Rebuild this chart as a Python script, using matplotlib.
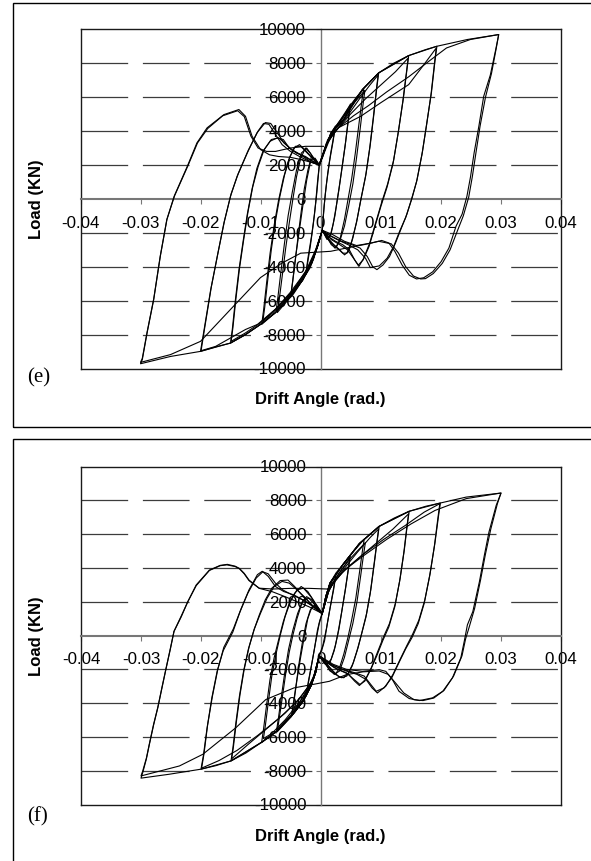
import numpy as np
import matplotlib.pyplot as plt
from matplotlib.patches import Rectangle

plt.rcParams['font.family'] = 'Liberation Sans'
plt.rcParams['axes.unicode_minus'] = False
plt.rcParams['lines.scale_dashes'] = False

x_ticks = [-0.04, -0.03, -0.02, -0.01, 0.0, 0.01, 0.02, 0.03, 0.04]
x_tick_labels = ['-0.04', '-0.03', '-0.02', '-0.01', '0', '0.01', '0.02', '0.03', '0.04']
y_ticks = [-10000, -8000, -6000, -4000, -2000, 0, 2000, 4000, 6000, 8000, 10000]
y_tick_labels = ['-10000', '-8000', '-6000', '-4000', '-2000', '0', '2000', '4000', '6000', '8000', '10000']
grid_levels = [-8000, -6000, -4000, -2000, 2000, 4000, 6000, 8000]

# ---- panel (e) : drift angle (rad), load (kN), one list per cycle ----
e_c1 = [(-0.0002, 2000), (0.0004, 2500), (0.0010, 3200), (0.0017, 3850), (0.0025, 4300),
        (0.0022, 3700), (0.0017, 2700), (0.0012, 1500), (0.0008, 300), (0.0005, -900), (0.0003, -1850),
        (-0.0004, -2600), (-0.0011, -3500), (-0.0018, -4100), (-0.0025, -4500),
        (-0.0022, -3900), (-0.0017, -2800), (-0.0012, -1500), (-0.0008, -200), (-0.0005, 1000), (-0.0002, 2000)]
e_c2 = [(-0.0002, 2000), (0.0006, 2700), (0.0014, 3400), (0.0024, 4100),
        (0.0021, 3400), (0.0015, 2200), (0.0010, 900), (0.0006, -400), (0.0003, -1850),
        (-0.0006, -2800), (-0.0014, -3600), (-0.0024, -4300),
        (-0.0021, -3500), (-0.0015, -2200), (-0.0010, -900), (-0.0006, 400), (-0.0002, 2000)]
e_c3 = [(-0.0002, 2000), (0.0008, 3000), (0.0017, 3850), (0.0028, 4400), (0.0039, 4900), (0.0050, 5600),
        (0.0047, 4800), (0.0042, 3400), (0.0036, 1900), (0.0031, 600), (0.0026, -500), (0.0021, -1500),
        (0.0016, -2200), (0.0010, -2300), (0.0003, -1850),
        (-0.0005, -2800), (-0.0014, -3700), (-0.0026, -4500), (-0.0038, -5200), (-0.0050, -5800),
        (-0.0047, -5000), (-0.0042, -3600), (-0.0037, -2100), (-0.0032, -700), (-0.0027, 600),
        (-0.0021, 1700), (-0.0015, 2500), (-0.0008, 2300), (-0.0002, 2000)]
e_c4 = [(-0.0002, 2000), (0.0007, 2900), (0.0016, 3700), (0.0030, 4400), (0.0049, 5400),
        (0.0046, 4600), (0.0041, 3100), (0.0035, 1600), (0.0029, 200), (0.0024, -1000), (0.0018, -2000),
        (0.0011, -2400), (0.0003, -1850),
        (-0.0006, -2900), (-0.0016, -3800), (-0.0030, -4700), (-0.0049, -5600),
        (-0.0046, -4800), (-0.0041, -3300), (-0.0035, -1800), (-0.0029, -300), (-0.0023, 1100),
        (-0.0016, 2300), (-0.0009, 2400), (-0.0002, 2000)]
e_c5 = [(-0.0002, 2000), (0.0008, 3000), (0.0018, 3900), (0.0030, 4500), (0.0045, 5300), (0.0060, 6000), (0.0072, 6500),
        (0.0069, 5800), (0.0064, 4400), (0.0058, 2700), (0.0052, 1200), (0.0046, 0), (0.0040, -1200),
        (0.0033, -2300), (0.0026, -2900), (0.0018, -2700), (0.0010, -2200), (0.0003, -1850),
        (-0.0005, -2800), (-0.0015, -3800), (-0.0030, -4800), (-0.0045, -5600), (-0.0060, -6200), (-0.0072, -6700),
        (-0.0069, -6000), (-0.0064, -4600), (-0.0058, -2900), (-0.0052, -1400), (-0.0046, 0), (-0.0040, 1300),
        (-0.0033, 2400), (-0.0025, 3000), (-0.0017, 2700), (-0.0009, 2200), (-0.0002, 2000)]
e_c6 = [(-0.0002, 2000), (0.0009, 3100), (0.0020, 3900), (0.0035, 4700), (0.0052, 5500), (0.0074, 6400),
        (0.0071, 5600), (0.0066, 4100), (0.0060, 2400), (0.0054, 900), (0.0047, -400), (0.0040, -1600),
        (0.0032, -2500), (0.0024, -2900), (0.0015, -2500), (0.0003, -1850),
        (-0.0006, -2900), (-0.0018, -4000), (-0.0035, -5000), (-0.0055, -5900), (-0.0074, -6600),
        (-0.0071, -5800), (-0.0066, -4300), (-0.0060, -2600), (-0.0054, -1000), (-0.0047, 400),
        (-0.0040, 1700), (-0.0032, 2700), (-0.0023, 3000), (-0.0013, 2500), (-0.0002, 2000)]
e_c7 = [(-0.0002, 2000), (0.0008, 3000), (0.0018, 3900), (0.0039, 4700), (0.0055, 5700), (0.0070, 6450),
        (0.0085, 7000), (0.0097, 7430),
        (0.0094, 6600), (0.0089, 5000), (0.0083, 3200), (0.0076, 1500), (0.0068, 100), (0.0061, -1200),
        (0.0054, -2300), (0.0047, -3100), (0.0040, -3300), (0.0032, -3000), (0.0022, -2700), (0.0012, -2300),
        (0.0003, -1850),
        (-0.0005, -2800), (-0.0015, -3800), (-0.0030, -4800), (-0.0050, -5700), (-0.0075, -6700), (-0.0098, -7400),
        (-0.0095, -6600), (-0.0090, -5000), (-0.0084, -3200), (-0.0077, -1500), (-0.0070, -100), (-0.0062, 1200),
        (-0.0053, 2300), (-0.0044, 3000), (-0.0035, 3200), (-0.0026, 2900), (-0.0016, 2500), (-0.0008, 2200),
        (-0.0002, 2000)]
e_c8 = [(-0.0002, 2000), (0.0010, 3200), (0.0025, 4000), (0.0045, 4900), (0.0065, 5900), (0.0082, 6700), (0.0096, 7300),
        (0.0093, 6400), (0.0088, 4800), (0.0082, 3000), (0.0075, 1300), (0.0067, -100), (0.0060, -1400),
        (0.0052, -2500), (0.0044, -3200), (0.0037, -3200), (0.0028, -2900), (0.0016, -2500), (0.0003, -1850),
        (-0.0007, -3000), (-0.0020, -4000), (-0.0040, -5100), (-0.0060, -6000), (-0.0079, -6700), (-0.0096, -7200),
        (-0.0093, -6400), (-0.0088, -4800), (-0.0082, -3000), (-0.0075, -1300), (-0.0068, 100), (-0.0060, 1400),
        (-0.0051, 2500), (-0.0042, 3100), (-0.0033, 3100), (-0.0022, 2700), (-0.0011, 2300), (-0.0002, 2000)]
e_c9 = [(-0.0002, 2000), (0.0008, 3000), (0.0018, 3900), (0.0039, 4700), (0.0055, 5700), (0.0070, 6450),
        (0.0097, 7430), (0.0122, 8000), (0.0147, 8450),
        (0.0144, 7600), (0.0138, 5900), (0.0130, 4000), (0.0122, 2300), (0.0112, 900), (0.0102, -200),
        (0.0092, -1400), (0.0082, -2600), (0.0072, -3500), (0.0064, -3980), (0.0057, -3600), (0.0048, -3000),
        (0.0037, -2700), (0.0025, -2500), (0.0012, -2200), (0.0003, -1850),
        (-0.0005, -2800), (-0.0015, -3800), (-0.0030, -4800), (-0.0050, -5700), (-0.0075, -6700), (-0.0100, -7400),
        (-0.0125, -8000), (-0.0150, -8500),
        (-0.0147, -7700), (-0.0142, -6000), (-0.0136, -4200), (-0.0129, -2500), (-0.0122, -900), (-0.0114, 600),
        (-0.0106, 1800), (-0.0096, 2800), (-0.0084, 3400), (-0.0072, 3600), (-0.0062, 3500), (-0.0052, 3000),
        (-0.0040, 2700), (-0.0025, 2500), (-0.0012, 2200), (-0.0002, 2000)]
e_c10 = [(-0.0002, 2000), (0.0010, 3300), (0.0028, 4100), (0.0050, 5000), (0.0075, 5900), (0.0100, 6700),
         (0.0125, 7500), (0.0146, 8300),
         (0.0143, 7400), (0.0137, 5700), (0.0129, 3800), (0.0121, 2100), (0.0111, 700), (0.0101, -400),
         (0.0091, -1600), (0.0081, -2800), (0.0071, -3600), (0.0063, -3900), (0.0055, -3500), (0.0045, -3000),
         (0.0032, -2700), (0.0018, -2400), (0.0003, -1850),
         (-0.0008, -3000), (-0.0025, -4300), (-0.0050, -5500), (-0.0075, -6500), (-0.0100, -7300), (-0.0125, -7900),
         (-0.0149, -8400),
         (-0.0146, -7600), (-0.0141, -5900), (-0.0135, -4100), (-0.0128, -2400), (-0.0121, -800), (-0.0113, 700),
         (-0.0104, 1900), (-0.0094, 2900), (-0.0082, 3500), (-0.0070, 3600), (-0.0060, 3300), (-0.0048, 2900),
         (-0.0033, 2600), (-0.0017, 2300), (-0.0002, 2000)]
e_c11 = [(-0.0002, 2000), (0.0008, 3000), (0.0018, 3900), (0.0039, 4700), (0.0070, 6450), (0.0097, 7430),
         (0.0147, 8450), (0.0175, 8800), (0.0194, 9000),
         (0.0191, 8200), (0.0185, 6300), (0.0178, 4680), (0.0170, 2800), (0.0161, 1140), (0.0153, 100),
         (0.0144, -900), (0.0135, -1700), (0.0125, -2600), (0.0115, -3400), (0.0104, -3900), (0.0094, -4170),
         (0.0087, -4000), (0.0078, -3400), (0.0066, -2900), (0.0052, -2700), (0.0035, -2500), (0.0018, -2200),
         (0.0003, -1850),
         (-0.0005, -2800), (-0.0015, -3800), (-0.0030, -4800), (-0.0050, -5700), (-0.0075, -6700), (-0.0100, -7400),
         (-0.0125, -8000), (-0.0150, -8500), (-0.0175, -8730), (-0.0200, -8990),
         (-0.0194, -7710), (-0.0183, -5350), (-0.0172, -3390), (-0.0161, -1420), (-0.0150, 150), (-0.0139, 1330),
         (-0.0122, 2710), (-0.0106, 3890), (-0.0092, 4500), (-0.0083, 4450), (-0.0072, 3900), (-0.0061, 3300),
         (-0.0048, 2900), (-0.0033, 2600), (-0.0017, 2200), (-0.0002, 2000)]
e_c12 = [(-0.0002, 2000), (0.0012, 3400), (0.0030, 4200), (0.0067, 4870), (0.0100, 5660), (0.0147, 6740),
         (0.0172, 7900), (0.0193, 8900),
         (0.0190, 8000), (0.0184, 6100), (0.0177, 4400), (0.0169, 2600), (0.0160, 1000), (0.0151, -100),
         (0.0142, -1100), (0.0132, -1900), (0.0122, -2800), (0.0111, -3500), (0.0098, -3950), (0.0083, -4050),
         (0.0075, -3500), (0.0062, -3000), (0.0046, -2700), (0.0028, -2400), (0.0012, -2100), (0.0003, -1850),
         (-0.0007, -3000), (-0.0020, -4100), (-0.0045, -5400), (-0.0075, -6500), (-0.0105, -7400), (-0.0125, -7700),
         (-0.0150, -8200), (-0.0175, -8700), (-0.0199, -8950),
         (-0.0193, -7600), (-0.0182, -5200), (-0.0171, -3200), (-0.0160, -1300), (-0.0149, 300), (-0.0137, 1500),
         (-0.0120, 2900), (-0.0104, 4000), (-0.0095, 4450), (-0.0086, 4400), (-0.0075, 3800), (-0.0064, 3200),
         (-0.0050, 2800), (-0.0035, 2500), (-0.0018, 2200), (-0.0002, 2000)]
e_c13 = [(-0.0002, 2000), (0.0008, 3000), (0.0018, 3900), (0.0039, 4700), (0.0070, 6450), (0.0097, 7430),
         (0.0147, 8450), (0.0194, 9000), (0.0245, 9400), (0.0297, 9690),
         (0.0292, 8800), (0.0283, 7300), (0.0272, 6050), (0.0264, 4300), (0.0256, 2710), (0.0250, 1300),
         (0.0244, 150), (0.0236, -900), (0.0226, -1600), (0.0214, -2900), (0.0201, -3700), (0.0187, -4300),
         (0.0172, -4650), (0.0160, -4720), (0.0148, -4500), (0.0136, -3900), (0.0124, -3100), (0.0114, -2600),
         (0.0102, -2450), (0.0085, -2600), (0.0060, -2750), (0.0040, -2500), (0.0020, -2100), (0.0003, -1850),
         (-0.0005, -2800), (-0.0015, -3800), (-0.0030, -4800), (-0.0050, -5700), (-0.0075, -6700), (-0.0100, -7400),
         (-0.0125, -8000), (-0.0150, -8500), (-0.0200, -8990), (-0.0250, -9290), (-0.0300, -9720),
         (-0.0297, -9480), (-0.0289, -7900), (-0.0278, -5940), (-0.0267, -3390), (-0.0256, -1220), (-0.0244, 150),
         (-0.0222, 1920), (-0.0206, 3300), (-0.0189, 4190), (-0.0161, 4970), (-0.0136, 5270), (-0.0125, 4870),
         (-0.0114, 3690), (-0.0100, 2910), (-0.0085, 2600), (-0.0070, 2500), (-0.0050, 2450), (-0.0030, 2300),
         (-0.0015, 2150), (-0.0002, 2000)]
e_c14 = [(-0.0002, 2000), (0.0012, 3500), (0.0030, 4200), (0.0055, 4900), (0.0080, 5500), (0.0110, 6300),
         (0.0147, 7200), (0.0180, 8100), (0.0210, 8900), (0.0250, 9400), (0.0297, 9690),
         (0.0293, 8900), (0.0285, 7400), (0.0275, 6000), (0.0266, 4300), (0.0259, 2700), (0.0253, 1300),
         (0.0247, 100), (0.0238, -1000), (0.0228, -1900), (0.0216, -3000), (0.0203, -3800), (0.0188, -4400),
         (0.0175, -4700), (0.0167, -4720), (0.0155, -4550), (0.0142, -4000), (0.0130, -3200), (0.0118, -2650),
         (0.0111, -2600), (0.0097, -2500), (0.0072, -2700), (0.0044, -2890), (0.0017, -3090), (-0.0033, -3200),
         (-0.0065, -3800), (-0.0100, -4640), (-0.0145, -6330), (-0.0200, -8400), (-0.0250, -9180), (-0.0300, -9640),
         (-0.0297, -9400), (-0.0289, -7850), (-0.0278, -5900), (-0.0267, -3350), (-0.0256, -1200), (-0.0243, 200),
         (-0.0221, 1950), (-0.0205, 3300), (-0.0188, 4150), (-0.0163, 4900), (-0.0138, 5200), (-0.0127, 4850),
         (-0.0116, 3700), (-0.0104, 3000), (-0.0090, 2800), (-0.0075, 2800), (-0.0050, 3000), (-0.0025, 3100),
         (0.0005, 3100)]

# ---- panel (f) ----
f_c1 = [(0.0002, 1300), (0.0008, 2200), (0.0015, 3000), (0.0025, 3600),
        (0.0022, 3000), (0.0017, 2000), (0.0011, 800), (0.0006, -300), (0.0001, -900), (-0.0003, -1200),
        (-0.0009, -2100), (-0.0016, -2900), (-0.0025, -3600),
        (-0.0022, -3000), (-0.0017, -2000), (-0.0011, -800), (-0.0006, 300), (-0.0002, 900), (0.0002, 1300)]
f_c2 = [(0.0002, 1300), (0.0010, 2400), (0.0024, 3400),
        (0.0021, 2700), (0.0015, 1600), (0.0009, 400), (0.0003, -600), (-0.0003, -1200),
        (-0.0011, -2300), (-0.0024, -3400),
        (-0.0021, -2700), (-0.0015, -1600), (-0.0009, -400), (-0.0003, 700), (0.0002, 1300)]
f_c3 = [(0.0002, 1300), (0.0008, 2300), (0.0015, 3100), (0.0025, 3700), (0.0036, 4170), (0.0049, 4750),
        (0.0046, 4000), (0.0041, 2800), (0.0035, 1500), (0.0030, 400), (0.0024, -600), (0.0017, -1400),
        (0.0010, -1700), (0.0003, -1500), (-0.0003, -1200),
        (-0.0009, -2200), (-0.0017, -3000), (-0.0028, -3700), (-0.0038, -4200), (-0.0049, -4700),
        (-0.0046, -4000), (-0.0041, -2800), (-0.0036, -1500), (-0.0031, -400), (-0.0025, 700), (-0.0018, 1500),
        (-0.0011, 1800), (-0.0004, 1500), (0.0002, 1300)]
f_c4 = [(0.0002, 1300), (0.0011, 2500), (0.0025, 3400), (0.0048, 4600),
        (0.0045, 3800), (0.0040, 2600), (0.0034, 1300), (0.0028, 100), (0.0022, -900), (0.0015, -1600),
        (0.0007, -1700), (-0.0003, -1200),
        (-0.0012, -2400), (-0.0027, -3500), (-0.0048, -4600),
        (-0.0045, -3900), (-0.0040, -2600), (-0.0034, -1300), (-0.0028, -100), (-0.0022, 1000), (-0.0015, 1700),
        (-0.0006, 1700), (0.0002, 1300)]
f_c5 = [(0.0002, 1300), (0.0008, 2300), (0.0015, 3100), (0.0036, 4170), (0.0055, 5000), (0.0072, 5700),
        (0.0069, 5000), (0.0064, 3700), (0.0058, 2200), (0.0051, 900), (0.0045, -100), (0.0038, -1100),
        (0.0031, -1900), (0.0024, -2300), (0.0015, -2100), (0.0006, -1600), (-0.0003, -1200),
        (-0.0009, -2200), (-0.0017, -3000), (-0.0030, -3900), (-0.0045, -4600), (-0.0060, -5200), (-0.0073, -5700),
        (-0.0070, -5000), (-0.0065, -3800), (-0.0059, -2300), (-0.0053, -1000), (-0.0047, 0), (-0.0040, 1000),
        (-0.0032, 1900), (-0.0024, 2300), (-0.0015, 2100), (-0.0006, 1600), (0.0002, 1300)]
f_c6 = [(0.0002, 1300), (0.0012, 2600), (0.0030, 3700), (0.0050, 4600), (0.0074, 5500),
        (0.0071, 4800), (0.0066, 3500), (0.0060, 2000), (0.0053, 700), (0.0046, -300), (0.0039, -1300),
        (0.0031, -2100), (0.0022, -2300), (0.0012, -1900), (-0.0003, -1200),
        (-0.0012, -2500), (-0.0030, -3800), (-0.0050, -4700), (-0.0074, -5600),
        (-0.0071, -4900), (-0.0066, -3600), (-0.0060, -2100), (-0.0054, -800), (-0.0047, 300), (-0.0039, 1300),
        (-0.0030, 2100), (-0.0020, 2200), (-0.0010, 1800), (0.0002, 1300)]
f_c7 = [(0.0002, 1300), (0.0008, 2300), (0.0015, 3100), (0.0036, 4170), (0.0064, 5440), (0.0082, 6000), (0.0097, 6460),
        (0.0094, 5700), (0.0089, 4300), (0.0083, 2700), (0.0076, 1300), (0.0069, 300), (0.0062, -700),
        (0.0054, -1600), (0.0046, -2200), (0.0038, -2500), (0.0030, -2450), (0.0020, -2100), (0.0010, -1700),
        (-0.0003, -1200),
        (-0.0009, -2200), (-0.0017, -3000), (-0.0030, -3900), (-0.0050, -4800), (-0.0075, -5700), (-0.0099, -6340),
        (-0.0096, -5600), (-0.0091, -4200), (-0.0085, -2600), (-0.0078, -1300), (-0.0071, -300), (-0.0063, 800),
        (-0.0054, 1800), (-0.0044, 2500), (-0.0033, 2900), (-0.0022, 2600), (-0.0011, 2000), (0.0002, 1300)]
f_c8 = [(0.0002, 1300), (0.0013, 2700), (0.0035, 3800), (0.0060, 4900), (0.0082, 5800), (0.0096, 6300),
        (0.0093, 5500), (0.0088, 4100), (0.0082, 2500), (0.0075, 1100), (0.0067, 0), (0.0060, -900),
        (0.0052, -1800), (0.0043, -2400), (0.0034, -2500), (0.0024, -2300), (0.0012, -1800), (-0.0003, -1200),
        (-0.0013, -2600), (-0.0035, -3900), (-0.0060, -5000), (-0.0082, -5800), (-0.0096, -6100),
        (-0.0093, -5400), (-0.0088, -4000), (-0.0082, -2400), (-0.0075, -1100), (-0.0068, 0), (-0.0060, 1100),
        (-0.0050, 2100), (-0.0040, 2700), (-0.0029, 2800), (-0.0017, 2300), (-0.0006, 1700), (0.0002, 1300)]
f_c9 = [(0.0002, 1300), (0.0008, 2300), (0.0015, 3100), (0.0036, 4170), (0.0064, 5440), (0.0097, 6460),
        (0.0122, 6950), (0.0147, 7350),
        (0.0144, 6600), (0.0139, 5100), (0.0132, 3400), (0.0124, 1900), (0.0114, 700), (0.0104, -100),
        (0.0094, -1000), (0.0084, -1900), (0.0074, -2600), (0.0064, -2960), (0.0056, -2700), (0.0046, -2300),
        (0.0034, -2100), (0.0022, -1900), (0.0010, -1600), (-0.0003, -1200),
        (-0.0009, -2200), (-0.0017, -3000), (-0.0030, -3900), (-0.0050, -4800), (-0.0075, -5700), (-0.0100, -6340),
        (-0.0125, -6950), (-0.0150, -7420),
        (-0.0147, -6700), (-0.0142, -5200), (-0.0136, -3600), (-0.0129, -2100), (-0.0121, -800), (-0.0112, 300),
        (-0.0103, 1200), (-0.0093, 2100), (-0.0082, 2800), (-0.0068, 3250), (-0.0055, 3280), (-0.0044, 2900),
        (-0.0032, 2400), (-0.0018, 1900), (-0.0006, 1500), (0.0002, 1300)]
f_c10 = [(0.0002, 1300), (0.0014, 2800), (0.0035, 3700), (0.0060, 4500), (0.0090, 5400), (0.0120, 6300), (0.0146, 7200),
         (0.0143, 6400), (0.0138, 4900), (0.0131, 3200), (0.0123, 1700), (0.0113, 500), (0.0103, -300),
         (0.0093, -1200), (0.0083, -2000), (0.0073, -2700), (0.0065, -2900), (0.0055, -2600), (0.0042, -2200),
         (0.0028, -2000), (0.0014, -1700), (-0.0003, -1200),
         (-0.0013, -2600), (-0.0035, -3700), (-0.0060, -4600), (-0.0090, -5500), (-0.0120, -6400), (-0.0149, -7300),
         (-0.0146, -6600), (-0.0141, -5100), (-0.0135, -3500), (-0.0128, -2000), (-0.0120, -700), (-0.0111, 400),
         (-0.0101, 1300), (-0.0090, 2200), (-0.0078, 2900), (-0.0065, 3200), (-0.0053, 3100), (-0.0040, 2700),
         (-0.0025, 2200), (-0.0010, 1600), (0.0002, 1300)]
f_c11 = [(0.0002, 1300), (0.0008, 2300), (0.0015, 3100), (0.0036, 4170), (0.0064, 5440), (0.0097, 6460),
         (0.0147, 7350), (0.0175, 7650), (0.0199, 7840),
         (0.0196, 7100), (0.0190, 5500), (0.0182, 3700), (0.0173, 2100), (0.0163, 900), (0.0153, 100),
         (0.0143, -600), (0.0132, -1400), (0.0120, -2300), (0.0108, -3000), (0.0094, -3400), (0.0085, -3100),
         (0.0075, -2600), (0.0060, -2300), (0.0042, -2100), (0.0022, -1800), (0.0008, -1500), (-0.0003, -1200),
         (-0.0009, -2200), (-0.0017, -3000), (-0.0030, -3900), (-0.0050, -4800), (-0.0075, -5700), (-0.0100, -6340),
         (-0.0150, -7420), (-0.0175, -7700), (-0.0200, -7910),
         (-0.0196, -7100), (-0.0190, -5500), (-0.0182, -3700), (-0.0173, -2100), (-0.0163, -900), (-0.0147, 200),
         (-0.0135, 1400), (-0.0122, 2500), (-0.0108, 3400), (-0.0097, 3770), (-0.0088, 3650), (-0.0076, 3100),
         (-0.0064, 2700), (-0.0048, 2400), (-0.0030, 2100), (-0.0012, 1700), (0.0002, 1300)]
f_c12 = [(0.0002, 1300), (0.0015, 2900), (0.0040, 3900), (0.0070, 4800), (0.0105, 5700), (0.0140, 6500),
         (0.0172, 7300), (0.0198, 7800),
         (0.0195, 7000), (0.0189, 5300), (0.0181, 3500), (0.0172, 1900), (0.0162, 700), (0.0152, -100),
         (0.0141, -800), (0.0130, -1600), (0.0118, -2500), (0.0105, -3100), (0.0092, -3300), (0.0083, -2900),
         (0.0072, -2400), (0.0056, -2200), (0.0036, -2000), (0.0016, -1700), (-0.0003, -1200),
         (-0.0014, -2700), (-0.0040, -3900), (-0.0070, -4900), (-0.0105, -5900), (-0.0140, -6800), (-0.0170, -7400),
         (-0.0199, -7850),
         (-0.0195, -7000), (-0.0189, -5300), (-0.0181, -3600), (-0.0172, -2000), (-0.0162, -700), (-0.0146, 400),
         (-0.0133, 1600), (-0.0120, 2700), (-0.0106, 3600), (-0.0098, 3800), (-0.0088, 3500), (-0.0076, 2900),
         (-0.0062, 2600), (-0.0045, 2400), (-0.0025, 2000), (-0.0008, 1600), (0.0002, 1300)]
f_c13 = [(0.0002, 1300), (0.0008, 2300), (0.0015, 3100), (0.0036, 4170), (0.0064, 5440), (0.0097, 6460),
         (0.0147, 7350), (0.0199, 7840), (0.0242, 8190), (0.0300, 8430),
         (0.0292, 7700), (0.0280, 6130), (0.0272, 4700), (0.0264, 3180), (0.0253, 1410), (0.0244, 630),
         (0.0239, -300), (0.0233, -1330), (0.0219, -2510), (0.0203, -3300), (0.0186, -3690), (0.0164, -3850),
         (0.0147, -3730), (0.0130, -3300), (0.0119, -2610), (0.0108, -2120), (0.0097, -2020), (0.0069, -2120),
         (0.0042, -2000), (0.0020, -1700), (-0.0003, -1200),
         (-0.0009, -2200), (-0.0017, -3000), (-0.0030, -3900), (-0.0050, -4800), (-0.0075, -5700), (-0.0100, -6340),
         (-0.0150, -7420), (-0.0200, -7910), (-0.0253, -8210), (-0.0300, -8440),
         (-0.0297, -8100), (-0.0291, -7300), (-0.0286, -6440), (-0.0279, -5300), (-0.0272, -4280), (-0.0265, -3100),
         (-0.0258, -1920), (-0.0251, -800), (-0.0245, 240), (-0.0233, 1100), (-0.0222, 2000), (-0.0208, 2990),
         (-0.0186, 3870), (-0.0168, 4150), (-0.0156, 4210), (-0.0143, 4100), (-0.0136, 3970), (-0.0128, 3680),
         (-0.0120, 3280), (-0.0103, 2790), (-0.0081, 2590), (-0.0060, 2300), (-0.0040, 2000), (-0.0020, 1700),
         (0.0002, 1300)]
f_c14 = [(0.0002, 1300), (0.0016, 3000), (0.0040, 3900), (0.0070, 4700), (0.0110, 5700), (0.0150, 6600),
         (0.0190, 7400), (0.0242, 8100), (0.0300, 8430),
         (0.0294, 7800), (0.0283, 6300), (0.0274, 4800), (0.0266, 3300), (0.0256, 1600), (0.0247, 500),
         (0.0241, -200), (0.0235, -1200), (0.0221, -2400), (0.0205, -3250), (0.0188, -3700), (0.0170, -3850),
         (0.0155, -3800), (0.0138, -3400), (0.0124, -2800), (0.0112, -2300), (0.0097, -2100), (0.0070, -2150),
         (0.0042, -2320), (0.0014, -2710), (-0.0014, -2900), (-0.0045, -3100), (-0.0092, -3790), (-0.0142, -5460),
         (-0.0197, -7030), (-0.0236, -7720), (-0.0300, -8310),
         (-0.0297, -8000), (-0.0291, -7250), (-0.0286, -6400), (-0.0279, -5250), (-0.0272, -4250), (-0.0265, -3050),
         (-0.0258, -1900), (-0.0251, -750), (-0.0245, 250), (-0.0233, 1150), (-0.0222, 2000), (-0.0208, 2950),
         (-0.0186, 3850), (-0.0168, 4130), (-0.0157, 4180), (-0.0143, 4080), (-0.0136, 3950), (-0.0128, 3650),
         (-0.0120, 3250), (-0.0103, 2800), (-0.0080, 2750), (-0.0050, 2790), (-0.0020, 2790), (0.0010, 2750)]

e_loops = [e_c1, e_c2, e_c3, e_c4, e_c5, e_c6, e_c7, e_c8, e_c9, e_c10, e_c11, e_c12, e_c13, e_c14]
f_loops = [f_c1, f_c2, f_c3, f_c4, f_c5, f_c6, f_c7, f_c8, f_c9, f_c10, f_c11, f_c12, f_c13, f_c14]

W, H = 591, 861
fig = plt.figure(figsize=(W / 100, H / 100), dpi=100)


def px_rect(left, top, right, bottom):
    return [left / W, 1 - bottom / H, (right - left) / W, (bottom - top) / H]


def draw_panel(rect, loops, tag, tag_xy, xlabel_y, ylabel_xy, box):
    ax = fig.add_axes(rect)
    ax.set_xlim(-0.04, 0.04)
    ax.set_ylim(-10000, 10000)
    # dashed grid lines
    for lv in grid_levels:
        ax.plot([-0.04, 0.04], [lv, lv], color='#3c3c3c', lw=0.9,
                linestyle=(0, (33.6, 10.6)), zorder=1)
    # hysteresis curves
    for loop in loops:
        xs = [p[0] for p in loop]
        ys = [p[1] for p in loop]
        ax.plot(xs, ys, color='black', lw=0.8, zorder=3)
    # axes through the origin
    ax.spines['left'].set_position(('data', 0))
    ax.spines['bottom'].set_position(('data', 0))
    ax.spines['left'].set_color('#777777')
    ax.spines['bottom'].set_color('#777777')
    ax.spines['left'].set_linewidth(1.0)
    ax.spines['bottom'].set_linewidth(1.5)
    for s in ['top', 'right']:
        ax.spines[s].set_color('#1a1a1a')
        ax.spines[s].set_linewidth(1.0)
    # outer frame left/bottom
    ax.plot([-0.04, -0.04], [-10000, 10000], color='#1a1a1a', lw=1.0, clip_on=False, zorder=2)
    ax.plot([-0.04, 0.04], [-10000, -10000], color='#1a1a1a', lw=1.0, clip_on=False, zorder=2)
    ax.set_xticks(x_ticks)
    ax.set_xticklabels(x_tick_labels)
    ax.set_yticks(y_ticks)
    ax.set_yticklabels(y_tick_labels)
    ax.tick_params(axis='x', direction='out', length=3.6, width=0.8, color='#777777',
                   pad=8.5, labelsize=12.2)
    ax.tick_params(axis='y', direction='out', length=3.6, width=0.8, color='#777777',
                   pad=7, labelsize=12.2)
    ax.patch.set_alpha(0)
    # labels
    fig.text(320.5 / W, 1 - xlabel_y / H, 'Drift Angle (rad.)', ha='center', va='center',
             fontsize=12, fontweight='bold')
    fig.text(ylabel_xy[0] / W, 1 - ylabel_xy[1] / H, 'Load (KN)', ha='center', va='center',
             rotation=90, fontsize=12, fontweight='bold')
    fig.text(tag_xy[0] / W, 1 - tag_xy[1] / H, tag, ha='left', va='center',
             fontsize=15, family='Liberation Serif')
    # panel border
    bl, bt, br, bb = box
    fig.add_artist(Rectangle((bl / W, 1 - bb / H), (br - bl) / W, (bb - bt) / H,
                             transform=fig.transFigure, fill=False, edgecolor='black', lw=1.0))
    return ax


draw_panel(px_rect(80.5, 29.3, 560.5, 368.5), e_loops, '(e)', (27, 378), 400, (37, 199),
           (12.5, 3.5, 600, 427))
draw_panel(px_rect(81, 466.5, 561, 804.5), f_loops, '(f)', (27, 817), 837, (37, 636),
           (12.5, 439.5, 600, 870))

fig.savefig('out.png', dpi=100)
